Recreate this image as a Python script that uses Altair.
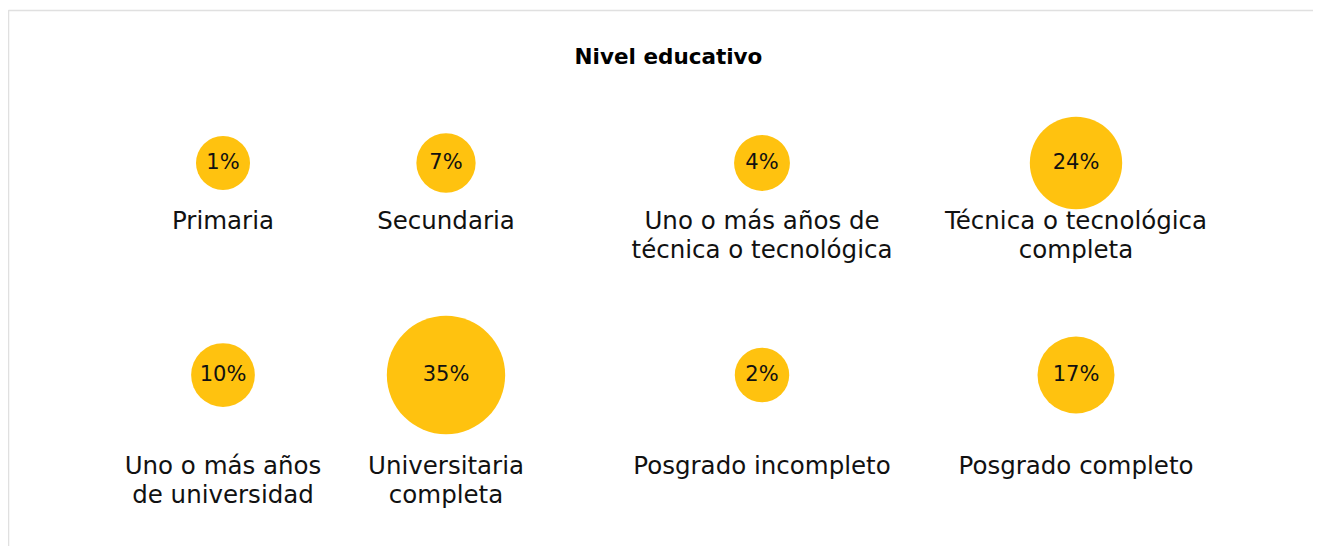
import altair as alt
import pandas as pd

# ---- data ----
categorias = [
    "Primaria",
    "Secundaria",
    "Uno o más años de\ntécnica o tecnológica",
    "Técnica o tecnológica\ncompleta",
    "Uno o más años\nde universidad",
    "Universitaria\ncompleta",
    "Posgrado incompleto",
    "Posgrado completo",
]
porcentajes = [1, 7, 4, 24, 10, 35, 2, 17]
columnas = [0, 1, 2, 3, 0, 1, 2, 3]
filas = [0, 0, 0, 0, 1, 1, 1, 1]

df = pd.DataFrame({
    "categoria": categorias,
    "valor": porcentajes,
    "columna": columnas,
    "fila": filas,
})

FONT = "DejaVu Sans"
AMARILLO = "#FFC20F"
BORDE = "#e0e0e0"

W, H = 1305, 536

x_enc = alt.X(
    "columna:Q",
    scale=alt.Scale(domain=[-1, 0, 1, 2, 3, 4], range=[0, 215, 438, 754, 1068, W],
                    nice=False, zero=False),
    axis=alt.Axis(orient="top", domain=True, domainColor=BORDE, domainWidth=1.5,
                  ticks=False, labels=False, grid=False, title=None),
)

y_circ = alt.Y(
    "fila:Q",
    scale=alt.Scale(domain=[-1, 0, 1, 2], range=[0, 153, 365, H], nice=False, zero=False),
    axis=alt.Axis(orient="left", domain=True, domainColor=BORDE, domainWidth=1.5,
                  ticks=False, labels=False, grid=False, title=None),
)

y_pct = alt.Y(
    "fila:Q",
    scale=alt.Scale(domain=[-1, 0, 1, 2], range=[0, 153, 365, H], nice=False, zero=False),
    axis=None,
)

y_lab = alt.Y(
    "fila:Q",
    scale=alt.Scale(domain=[-1, 0, 1, 2], range=[0, 219, 464, H], nice=False, zero=False),
    axis=None,
)

base = alt.Chart(df)

circulos = base.mark_circle(color=AMARILLO, opacity=1).encode(
    x=x_enc,
    y=y_circ,
    size=alt.Size("valor:Q",
                  scale=alt.Scale(type="pow", exponent=1.8, domain=[0, 35], range=[2900, 14000]),
                  legend=None),
)

pct = base.transform_calculate(
    etiqueta="datum.valor + '%'"
).mark_text(font=FONT, fontSize=21, color="#111111", baseline="middle", align="center").encode(
    x=x_enc,
    y=y_pct,
    text="etiqueta:N",
)

etiquetas = base.mark_text(
    font=FONT, fontSize=24.5, color="#111111", baseline="alphabetic", align="center",
    lineBreak="\n", lineHeight=29,
).encode(
    x=x_enc,
    y=y_lab,
    text="categoria:N",
)

chart = alt.layer(circulos, pct, etiquetas).resolve_scale(
    y="independent"
).properties(
    width=W,
    height=H,
    title=alt.TitleParams(
        "Nivel educativo", font=FONT, fontSize=21.5, fontWeight="bold", color="#000000",
        anchor="middle", baseline="alphabetic", offset=-75, dx=8,
    ),
    padding={"left": 0, "top": 2, "right": 0, "bottom": 0},
    autosize=alt.AutoSizeParams(type="none"),
).configure_view(strokeWidth=0, stroke="transparent").configure(background="white")

chart.save("out.html", embed_options={"renderer": "svg", "actions": False})
